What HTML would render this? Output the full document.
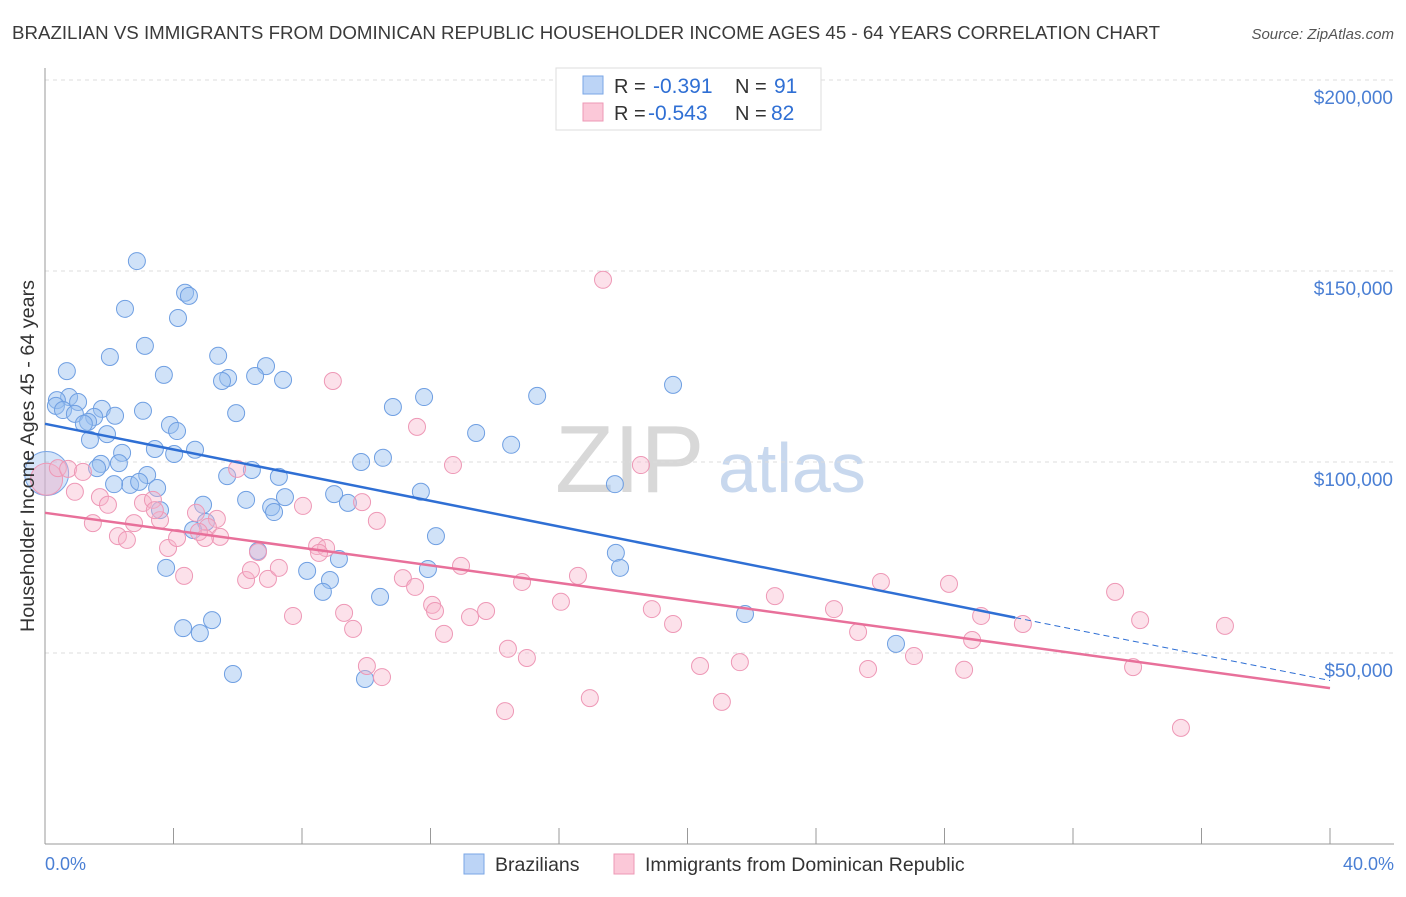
<!DOCTYPE html>
<html><head><meta charset="utf-8"><style>
body{margin:0;background:#fff;font-family:"Liberation Sans",sans-serif;}
svg text{font-family:"Liberation Sans",sans-serif;}
</style></head><body>
<svg id="chart" width="1406" height="892" viewBox="0 0 1406 892">
<text x="12" y="39" font-size="18" fill="#3a3a3a" textLength="1148" lengthAdjust="spacingAndGlyphs">BRAZILIAN VS IMMIGRANTS FROM DOMINICAN REPUBLIC HOUSEHOLDER INCOME AGES 45 - 64 YEARS CORRELATION CHART</text>
<text x="1394" y="39" font-size="15" fill="#555" font-style="italic" text-anchor="end">Source: ZipAtlas.com</text>
<text x="555" y="492" font-size="96" fill="#d8d8d8" font-family="Liberation Serif">ZIP</text>
<text x="718" y="492" font-size="70" fill="#c8d8ee">atlas</text>
<g id="grid"></g><g id="axes"></g><g id="pts"></g><g id="lines"></g>
<text transform="translate(34,456) rotate(-90)" font-size="19" fill="#333" text-anchor="middle" textLength="352" lengthAdjust="spacingAndGlyphs">Householder Income Ages 45 - 64 years</text>
<text x="45" y="870" font-size="18" fill="#4a7fd4">0.0%</text>
<text x="1394" y="870" font-size="18" fill="#4a7fd4" text-anchor="end">40.0%</text>
<g>
<rect x="556" y="68" width="265" height="62" fill="#fff" stroke="#ddd"/>
<rect x="583" y="76" width="20" height="18" fill="#bcd4f6" stroke="#7aa6e6"/>
<text x="614" y="93" font-size="20" fill="#333">R =</text><text x="653" y="93" font-size="21" fill="#2f6fd4">-0.391</text>
<text x="735" y="93" font-size="20" fill="#333">N =</text><text x="774" y="93" font-size="21" fill="#2f6fd4">91</text>
<rect x="583" y="103" width="20" height="18" fill="#fbc8d8" stroke="#ee98b6"/>
<text x="614" y="120" font-size="20" fill="#333">R =</text><text x="648" y="120" font-size="21" fill="#2f6fd4">-0.543</text>
<text x="735" y="120" font-size="20" fill="#333">N =</text><text x="771" y="120" font-size="21" fill="#2f6fd4">82</text>
</g>
<g>
<rect x="464" y="854" width="20" height="20" fill="#bcd4f6" stroke="#7aa6e6"/>
<text x="495" y="871" font-size="19.5" fill="#333">Brazilians</text>
<rect x="614" y="854" width="20" height="20" fill="#fbc8d8" stroke="#ee98b6"/>
<text x="645" y="871" font-size="19.5" fill="#333">Immigrants from Dominican Republic</text>
</g>
</svg>
<script>
const yTicks=[50000,100000,150000,200000];
const yTickLabels=["$50,000","$100,000","$150,000","$200,000"];
const xTicks=[0,4,8,12,16,20,24,28,32,36,40];
const blueX=[2.86,4.36,4.48,2.49,4.14,3.11,2.02,5.39,6.88,5.70,6.54,3.70,7.41,0.68,5.51,0.75,0.37,0.34,1.03,1.77,0.56,0.93,5.95,3.05,2.18,1.53,1.34,1.21,3.89,4.11,1.93,1.40,3.42,4.67,4.02,2.40,2.30,1.74,1.62,3.18,5.67,6.44,7.28,2.65,2.93,3.49,2.15,6.26,7.47,4.92,3.58,7.04,7.13,5.01,4.61,6.63,3.77,4.30,4.82,5.20,5.85,9.00,9.43,9.84,10.52,10.83,11.80,11.70,13.42,14.51,15.32,19.55,17.74,12.17,11.92,9.15,8.16,8.87,8.65,10.43,9.96,17.77,17.90,21.79,26.49];
const blueY=[152.6,144.3,143.5,140.1,137.7,130.4,127.5,127.8,125.1,122.0,122.5,122.8,121.5,123.8,121.2,117.0,116.2,114.7,115.7,113.9,113.6,112.6,112.8,113.4,112.1,111.8,110.5,110.0,109.7,108.1,107.3,105.8,103.4,103.2,102.1,102.4,99.7,99.5,98.4,96.6,96.3,97.9,96.1,94.0,94.8,93.2,94.2,90.1,90.8,88.8,87.4,88.2,86.9,84.3,82.2,76.7,72.3,56.5,55.2,58.6,44.5,91.6,89.3,100.0,101.1,114.4,117.0,92.2,107.6,104.5,117.3,120.2,94.2,80.6,72.0,74.6,71.5,69.1,66.0,64.7,43.2,76.2,72.3,60.2,52.4];
const pinkX=[17.37,8.96,11.58,12.70,18.55,5.98,0.40,0.72,1.18,0.93,1.71,1.96,3.05,3.36,3.58,3.42,4.70,5.35,5.07,5.45,4.98,4.79,2.27,2.55,2.77,1.49,3.83,4.11,4.33,6.63,6.26,6.41,6.94,7.28,8.03,8.47,8.75,8.53,9.87,10.33,11.14,11.52,12.95,12.05,12.14,7.72,9.31,9.59,10.02,10.49,12.42,13.23,13.73,14.41,15.00,14.85,16.06,16.59,16.96,14.32,18.89,19.55,20.39,21.07,21.63,22.72,24.56,25.31,25.62,26.02,27.05,28.14,28.61,28.86,29.14,30.44,33.31,34.09,33.87,35.36,36.73];
const pinkY=[147.7,121.2,109.2,99.2,99.2,98.2,98.4,98.2,97.4,92.2,90.8,88.8,89.3,90.1,84.8,87.4,86.7,85.1,83.0,80.4,80.1,81.7,80.6,79.6,84.0,84.0,77.5,80.1,70.2,76.4,69.1,71.7,69.4,72.3,88.5,78.0,77.5,76.2,89.5,84.6,69.6,67.3,72.8,62.6,61.0,59.7,60.5,56.3,46.6,43.7,55.0,59.4,61.0,51.1,48.7,68.6,63.4,70.2,38.2,34.8,61.5,57.6,46.6,37.2,47.6,64.9,61.5,55.5,45.8,68.6,49.2,68.1,45.6,53.4,59.7,57.6,66.0,58.6,46.3,30.4,57.1];
const bigX=[0.05,0.05];
const bigY=[97.0,95.5];
const blueTrend=[110.0,42.8];
const blueSolidEnd=30.2;
const pinkTrend=[86.7,40.8];

const NS="http://www.w3.org/2000/svg";
const X=p=>45+p*(1285/40);
const Y=k=>844-k*1000*191/50000;
function mk(t,a,parent){const e=document.createElementNS(NS,t);for(const k in a)e.setAttribute(k,a[k]);document.getElementById(parent).appendChild(e);return e;}
const grid="grid",axes="axes";
yTicks.forEach((v,i)=>{
 const g=mk("line",{x1:45,x2:1394,y1:Y(v/1000),y2:Y(v/1000),stroke:"#ddd","stroke-dasharray":"4,4"},grid);
 
 
 const t=mk("text",{x:1393,y:Y(v/1000)+24,"font-size":19,fill:"#4a7fd4","text-anchor":"end"},axes);
 t.textContent=yTickLabels[i];
 
 
});
const ax=mk("line",{x1:45,x2:45,y1:68,y2:844,stroke:"#999"},axes);


const bx=mk("line",{x1:45,x2:1394,y1:844,y2:844,stroke:"#999"},axes);


xTicks.forEach(p=>{
 const t=mk("line",{x1:X(p),x2:X(p),y1:828,y2:844,stroke:"#999"},axes);
 
 
});
bigX.forEach((p,i)=>{
 const c=mk("circle",{cx:X(p),cy:Y(bigY[i]),r:i==0?22:16,fill:i==0?"rgba(150,190,240,0.4)":"rgba(245,170,195,0.4)",stroke:i==0?"#7aa6e6":"#ee98b6"},"pts");
 
 
});
blueX.forEach((p,i)=>{
 const c=mk("circle",{cx:X(p),cy:Y(blueY[i]),r:8.5,fill:"rgba(150,190,240,0.45)",stroke:"#6f9fe2","stroke-width":1},"pts");
 
 
});
pinkX.forEach((p,i)=>{
 const c=mk("circle",{cx:X(p),cy:Y(pinkY[i]),r:8.5,fill:"rgba(248,180,202,0.4)",stroke:"#ee98b6","stroke-width":1},"pts");
 
 
});
const bv=p=>blueTrend[0]+(blueTrend[1]-blueTrend[0])*p/40;
const l1=mk("line",{x1:X(0),y1:Y(bv(0)),x2:X(blueSolidEnd),y2:Y(bv(blueSolidEnd)),stroke:"#2f6fd4","stroke-width":2.5},"lines");


const l2=mk("line",{x1:X(blueSolidEnd),y1:Y(bv(blueSolidEnd)),x2:X(40),y2:Y(bv(40)),stroke:"#2f6fd4","stroke-width":1,"stroke-dasharray":"6,4"},"lines");


const l3=mk("line",{x1:X(0),y1:Y(pinkTrend[0]),x2:X(40),y2:Y(pinkTrend[1]),stroke:"#e8709a","stroke-width":2.5},"lines");


</script>
</body></html>
